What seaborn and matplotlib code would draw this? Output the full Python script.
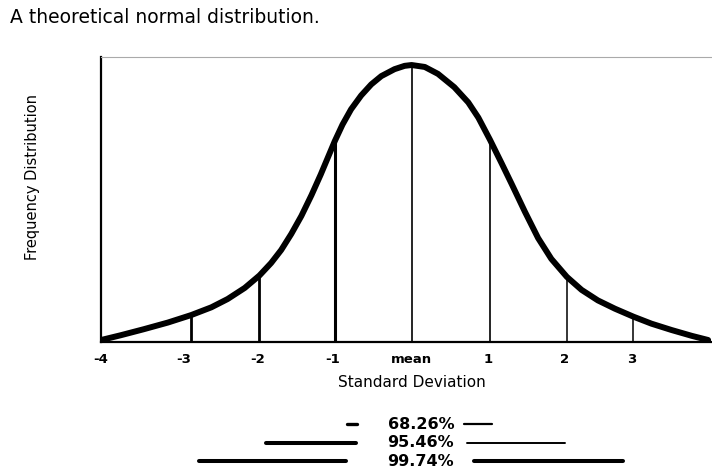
import matplotlib
matplotlib.use("Agg")
import matplotlib.pyplot as plt
import pandas as pd
import seaborn as sns

# curve (x in SD units, height relative to the peak)
curve_x = [-4.0, -3.75, -3.45, -3.14, -2.84, -2.58, -2.37, -2.15, -1.96, -1.81,
           -1.68, -1.55, -1.42, -1.29, -1.17, -1.08, -0.99, -0.89, -0.78, -0.65,
           -0.52, -0.39, -0.22, -0.09, 0.0, 0.17, 0.34, 0.55, 0.73, 0.86,
           1.01, 1.16, 1.29, 1.46, 1.63, 1.80, 2.0, 2.19, 2.40, 2.62,
           2.86, 3.09, 3.35, 3.61, 3.82]
curve_y = [0.007, 0.024, 0.046, 0.070, 0.097, 0.125, 0.155, 0.195, 0.240, 0.285,
           0.332, 0.390, 0.455, 0.530, 0.605, 0.665, 0.725, 0.785, 0.840, 0.890,
           0.930, 0.960, 0.985, 0.997, 1.0, 0.993, 0.968, 0.920, 0.865, 0.810,
           0.730, 0.645, 0.570, 0.470, 0.375, 0.300, 0.235, 0.188, 0.150, 0.120,
           0.091, 0.066, 0.043, 0.022, 0.007]

# vertical markers under the curve
marker_x = [-2.84, -1.96, -0.99, 0.0, 1.01, 2.0, 2.85]
marker_top = [0.097, 0.235, 0.725, 1.0, 0.715, 0.228, 0.085]
marker_width = [2.0, 2.0, 2.2, 1.2, 1.2, 1.1, 1.1]

tick_pos = [-4.0, -2.93, -1.99, -1.02, 0.0, 0.99, 1.97, 2.84]
tick_labels = ["-4", "-3", "-2", "-1", "mean", "1", "2", "3"]

# percentage rows below the axis: (start, end) of the left and right bars
pct_labels = ["68.26%", "95.46%", "99.74%"]
pct_left = [(-0.83, -0.70), (-1.87, -0.71), (-2.74, -0.84)]
pct_right = [(0.68, 1.03), (0.72, 1.97), (0.81, 2.72)]

sns.set_theme(style="white")
plt.rcParams["font.family"] = ["DejaVu Sans"]
plt.rcParams["text.color"] = "black"
plt.rcParams["axes.labelcolor"] = "black"
plt.rcParams["xtick.color"] = "black"

fig = plt.figure(figsize=(7.12, 4.71), dpi=100)
ax = fig.add_axes([0.142, 0.274, 0.858, 0.605])

df = pd.DataFrame({"sd": curve_x, "freq": curve_y})
sns.lineplot(data=df, x="sd", y="freq", color="black", linewidth=4.3, ax=ax,
             sort=False, solid_capstyle="round", solid_joinstyle="round")

for x, top, lw in zip(marker_x, marker_top, marker_width):
    ax.vlines(x, 0, top, color="black", linewidth=lw)

ax.set_xlim(-4.0, 3.87)
ax.set_ylim(0, 1.029)
ax.set_xticks(tick_pos)
ax.set_xticklabels(tick_labels, fontsize=9.5, fontweight="bold")
ax.set_yticks([])
ax.tick_params(axis="x", length=0, pad=8)
ax.set_xlabel("Standard Deviation", fontsize=11)
ax.set_ylabel("Frequency Distribution", fontsize=10.5)
ax.xaxis.set_label_coords(0.509, -0.115)
ax.yaxis.set_label_coords(-0.1, 0.579)

for side in ["left", "bottom"]:
    ax.spines[side].set_color("black")
    ax.spines[side].set_linewidth(1.6)
ax.spines["top"].set_color("#aaaaaa")
ax.spines["top"].set_linewidth(0.8)
ax.spines["right"].set_visible(False)

trans = ax.get_xaxis_transform()
row_y = [-0.288, -0.354, -0.418]
left_lw = [2.4, 2.9, 2.9]
right_lw = [1.6, 1.4, 2.9]
for label, (l0, l1), (r0, r1), yy, llw, rlw in zip(pct_labels, pct_left, pct_right,
                                                   row_y, left_lw, right_lw):
    ax.plot([l0, l1], [yy, yy], color="black", linewidth=llw, transform=trans,
            clip_on=False)
    ax.plot([r0, r1], [yy, yy], color="black", linewidth=rlw, transform=trans,
            clip_on=False)
    ax.text(-0.31, yy, label, transform=trans, ha="left", va="center",
            fontsize=11.5, fontweight="bold")

fig.text(0.014, 0.962, "A theoretical normal distribution.", fontsize=13.5,
         ha="left", va="center")

fig.savefig("out.png", dpi=100)
